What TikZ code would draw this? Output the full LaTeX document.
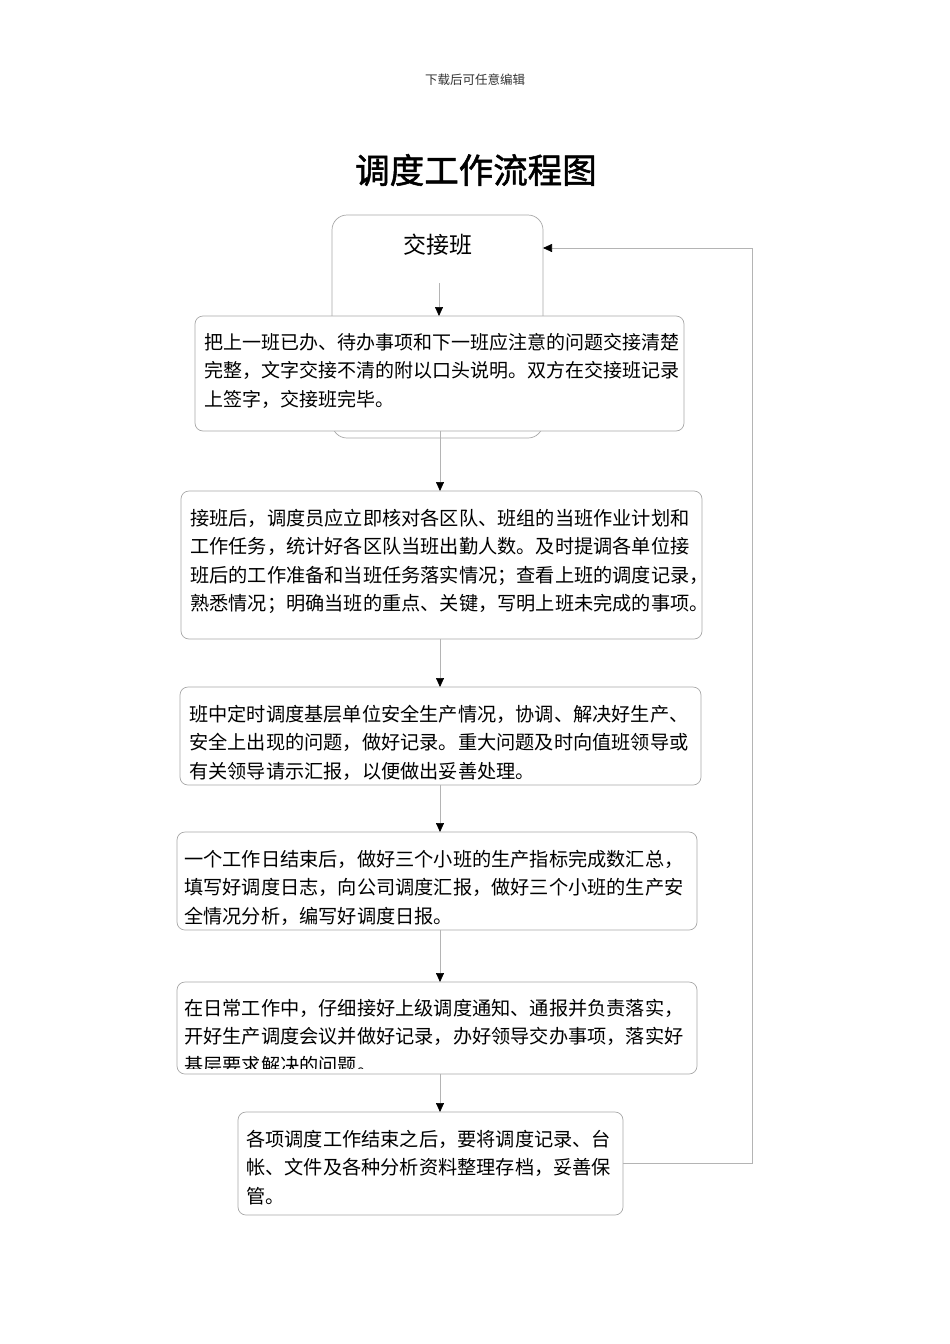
\documentclass[tikz,border=0pt]{standalone}
\usepackage{fontspec}
\setmainfont{Noto Sans CJK SC}
\newfontfamily\titlefont[FakeBold=1.5]{Noto Sans CJK SC}
\usetikzlibrary{arrows.meta}
\definecolor{boxline}{HTML}{A8A8A8}
\definecolor{conline}{HTML}{B4B4B4}
\begin{document}
\begin{tikzpicture}[x=1pt,y=-1pt,
  box/.style={draw=boxline,line width=0.7pt,fill=white,rounded corners=8pt},
  txt/.style={anchor=north west,inner sep=0pt,align=left,font=\fontsize{19.2}{28.3}\selectfont},
  arr/.style={draw=conline,line width=0.7pt,-{Triangle[length=9pt,width=8pt,color=black]}},
  con/.style={draw=conline,line width=0.7pt}]
\useasboundingbox[fill=white] (0,0) rectangle (950,1344);
% header and title
\node[inner sep=0pt,text=black!80,font=\fontsize{12.5}{14}\selectfont] (hdr) at (475,80) {下载后可任意编辑};
\node[inner sep=0pt,font=\titlefont\fontsize{34.5}{40}\selectfont] (title) at (476,170) {调度工作流程图};
% box 0
\draw[box,rounded corners=15pt] (332,215) rectangle (543,438);
\node[inner sep=0pt,font=\fontsize{23}{26}\selectfont] (t0) at (438,245) {交接班};
\coordinate (b0r) at (543,248);
% box 1
\draw[box] (195,316) rectangle (684,431);
\coordinate (b1n) at (439,316); \coordinate (b1s) at (440,431);
\node[txt,font=\fontsize{19.0}{28.5}\selectfont] (t1) at (204,333) {把上一班已办、待办事项和下一班应注意的问题交接清楚\\完整，文字交接不清的附以口头说明。双方在交接班记录\\上签字，交接班完毕。};
% box 2
\draw[box] (181,491) rectangle (702,639);
\coordinate (b2n) at (440,491); \coordinate (b2s) at (440,639);
\node[txt] (t2) at (190,509) {接班后，调度员应立即核对各区队、班组的当班作业计划和\\工作任务，统计好各区队当班出勤人数。及时提调各单位接\\班后的工作准备和当班任务落实情况；查看上班的调度记录，\\熟悉情况；明确当班的重点、关键，写明上班未完成的事项。};
% box 3
\draw[box] (180,687) rectangle (701,785);
\coordinate (b3n) at (440,687); \coordinate (b3s) at (440,785);
\node[txt] (t3) at (189,705) {班中定时调度基层单位安全生产情况，协调、解决好生产、\\安全上出现的问题，做好记录。重大问题及时向值班领导或\\有关领导请示汇报，以便做出妥善处理。};
% box 4
\draw[box] (177,832) rectangle (697,930);
\coordinate (b4n) at (440,832); \coordinate (b4s) at (440,930);
\node[txt] (t4) at (184,850) {一个工作日结束后，做好三个小班的生产指标完成数汇总，\\填写好调度日志，向公司调度汇报，做好三个小班的生产安\\全情况分析，编写好调度日报。};
% box 5
\draw[box] (177,982) rectangle (697,1074);
\coordinate (b5n) at (440,982); \coordinate (b5s) at (440,1074);
\begin{scope}
\clip (177,982) rectangle (697,1068);
\node[txt] (t5) at (184,999) {在日常工作中，仔细接好上级调度通知、通报并负责落实，\\开好生产调度会议并做好记录，办好领导交办事项，落实好\\基层要求解决的问题。};
\end{scope}
% box 6
\draw[box] (238,1112) rectangle (623,1215);
\coordinate (b6n) at (440,1112); \coordinate (b6r) at (623,1163);
\node[txt] (t6) at (246,1130) {各项调度工作结束之后，要将调度记录、台\\帐、文件及各种分析资料整理存档，妥善保\\管。};
% connectors
\coordinate (a0) at (439,283);
\draw[arr] (a0) -- (b1n);
\draw[arr] (b1s) -- (b2n);
\draw[arr] (b2s) -- (b3n);
\draw[arr] (b3s) -- (b4n);
\draw[arr] (b4s) -- (b5n);
\draw[arr] (b5s) -- (b6n);
\coordinate (fb1) at (752,1163); \coordinate (fb2) at (752,248);
\draw[arr] (b6r) -- (fb1) -- (fb2) -- (b0r);
\end{tikzpicture}
\end{document}
